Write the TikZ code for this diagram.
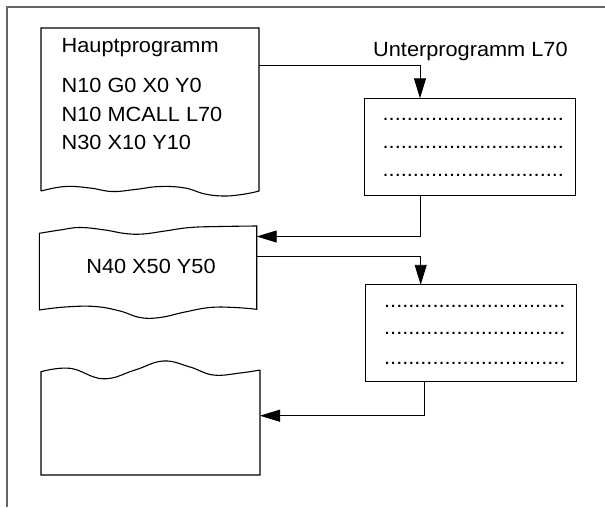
\documentclass[tikz,border=0pt]{standalone}
\usepackage{fontspec}
\setmainfont{Liberation Sans}[FakeStretch=1.06]
\usepackage{tikz}
\usetikzlibrary{arrows.meta}

\begin{document}
\begin{tikzpicture}[
    x=1pt,y=-1pt,
    every node/.style={font=\fontsize{20.5}{24}\selectfont,inner sep=0pt},
    txt/.style={anchor=base west},
    pagebox/.style={draw=black,line width=1.1pt},
    subbox/.style={draw=black,line width=1.1pt,minimum width=211pt,minimum height=97pt},
    conn/.style={black,line width=0.9pt,-{Triangle[length=20pt,width=12pt]}},
    frame/.style={black!60,line width=1.6pt},
  ]
  \useasboundingbox (0,0) rectangle (605,507);
  \draw[frame] (6.7,507) -- (6.7,6.7) -- (605,6.7);

  % Hauptprogramm (torn sheets)
  \draw[pagebox] (41,191) -- (41,28) -- (259,28) -- (259,191)
    -- plot[smooth,tension=0.7] coordinates {(259,191) (245,194) (225,196) (205,194) (185,188) (160,186.5) (135,189.5) (112,191.5) (90,188) (65,186.5) (41,191)};
  \draw[pagebox] plot[smooth,tension=0.7] coordinates {(39.3,233.3) (60,230) (80,227.5) (105,230) (125,233.5) (143,234) (165,231) (190,227.5) (220,226.5) (256.7,226)}
    -- (256.7,309.3)
    -- plot[smooth,tension=0.7] coordinates {(256.7,309.3) (235,307.5) (210,307.5) (185,312) (160,317.5) (140,317.5) (120,311) (95,306.5) (65,307) (39.3,310)} -- cycle;
  \draw[pagebox] (260,370) -- (260,475) -- (41,475) -- (41,371.7)
    -- plot[smooth,tension=0.7] coordinates {(41,371.7) (70,368.3) (103.3,378.8) (135,370) (163.3,361) (190,367) (213.3,375) (240,373) (260,370)};

  \node[txt] (hp)   at (61.5,52)  {Hauptprogramm};
  \node[txt] (hp1)  at (61.5,92.3) {N10 G0 X0 Y0};
  \node[txt] (hp2)  at (61.5,121)  {N10 MCALL L70};
  \node[txt] (hp3)  at (61.5,149)  {N30 X10 Y10};
  \node[anchor=base] (n40) at (151,273.3) {N40 X50 Y50};

  % Unterprogramm L70
  \node[txt] (upname) at (373,56) {Unterprogramm L70};
  \node[subbox] (sub1) at (470,146.8) {};
  \node[subbox] (sub2) at (471.3,333.3) {};
  \foreach \i/\y in {1/120.5,2/148,3/176.5} {
    \node[txt] (dotsa\i) at (382.5,\y) {..............................};
  }
  \foreach \i/\y in {1/307,2/334,3/364} {
    \node[txt] (dotsb\i) at (384,\y) {..............................};
  }

  \coordinate (hpout)  at (259,65);
  \coordinate (s1in)   at (420,98.3);
  \coordinate (s1out)  at (420,195.3);
  \coordinate (n40in)  at (256.7,236.5);
  \coordinate (n40out) at (256.7,256);
  \coordinate (s2in)   at (420.7,284.8);
  \coordinate (s2out)  at (424,381.8);
  \coordinate (endin)  at (260,415.7);

  \draw[conn] (hpout) -| (s1in);
  \draw[conn] (s1out) |- (n40in);
  \draw[conn] (n40out) -| (s2in);
  \draw[conn] (s2out) |- (endin);
\end{tikzpicture}
\end{document}
